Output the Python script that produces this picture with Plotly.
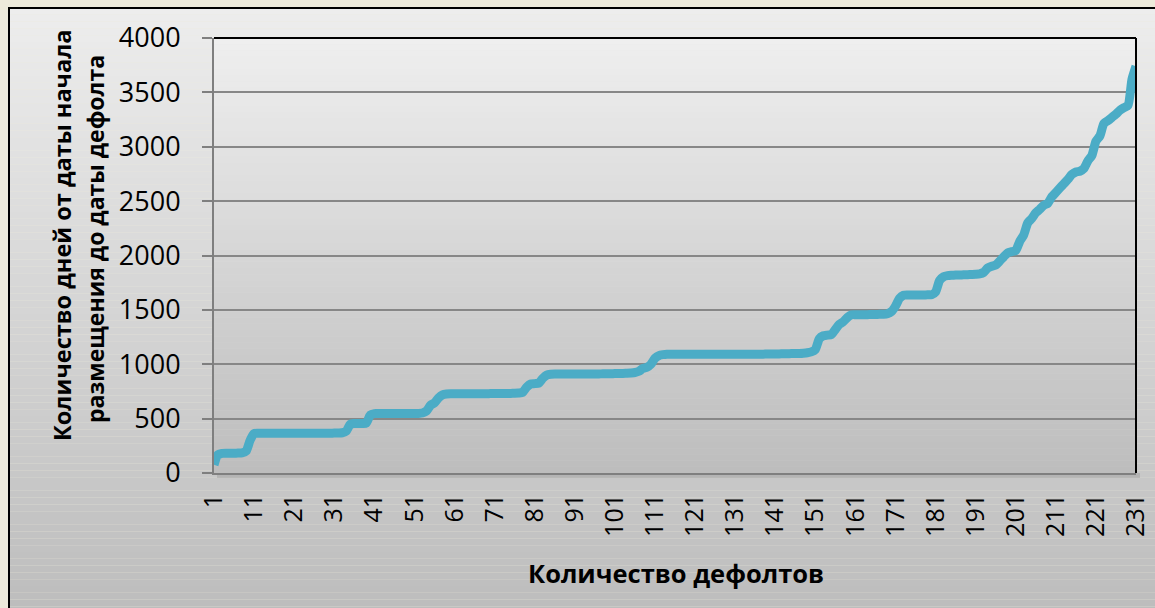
import plotly.graph_objects as go

# ---------------- data ----------------
defaults_n = list(range(1, 232))
days = [
    75, 170, 180, 182, 182, 182, 183, 185, 200, 300,            # 1-10
    362, 365, 365, 365, 365, 365, 365, 365, 365, 365,           # 11-20
    365, 365, 365, 365, 365, 365, 365, 366, 366, 366,           # 21-30
    367, 368, 370, 385, 448, 455, 455, 456, 460, 535,           # 31-40
    546, 546, 546, 546, 546, 546, 546, 546, 546, 547,           # 41-50
    547, 548, 552, 570, 622, 645, 690, 718, 726, 728,           # 51-60
    728, 728, 728, 728, 728, 729, 729, 729, 729, 730,           # 61-70
    730, 730, 731, 731, 732, 733, 735, 742, 790, 818,           # 71-80
    822, 826, 870, 900, 908, 910, 910, 910, 910, 910,           # 81-90
    910, 910, 910, 910, 910, 911, 911, 912, 912, 913,           # 91-100
    914, 915, 916, 918, 920, 924, 935, 962, 972, 1000,          # 101-110
    1055, 1080, 1088, 1092, 1092, 1092, 1092, 1092, 1092, 1092, # 111-120
    1092, 1092, 1092, 1092, 1092, 1092, 1092, 1092, 1092, 1092, # 121-130
    1092, 1092, 1092, 1092, 1092, 1093, 1093, 1093, 1094, 1094, # 131-140
    1095, 1095, 1096, 1097, 1098, 1099, 1100, 1102, 1106, 1114, # 141-150
    1135, 1235, 1262, 1268, 1272, 1320, 1368, 1392, 1430, 1455, # 151-160
    1456, 1456, 1456, 1456, 1457, 1458, 1459, 1460, 1465, 1485, # 161-170
    1535, 1605, 1634, 1637, 1637, 1637, 1637, 1637, 1638, 1640, # 171-180
    1665, 1770, 1805, 1815, 1818, 1820, 1821, 1822, 1824, 1826, # 181-190
    1828, 1832, 1845, 1885, 1902, 1912, 1948, 1988, 2025, 2036, # 191-200
    2045, 2130, 2190, 2300, 2340, 2392, 2425, 2462, 2480, 2540, # 201-210
    2580, 2620, 2660, 2700, 2745, 2768, 2775, 2800, 2870, 2920, # 211-220
    3050, 3100, 3215, 3240, 3270, 3300, 3335, 3360, 3380, 3620, # 221-230
    3740,                                                       # 231
]
x_tickvals = list(range(1, 232, 10))
x_ticktext = [str(v) for v in x_tickvals]
y_tickvals = [0, 500, 1000, 1500, 2000, 2500, 3000, 3500, 4000]

x_title = "Количество дефолтов"
y_title_1 = "Количество дней от даты начала"
y_title_2 = "размещения до даты дефолта"

# ---------------- geometry ----------------
W, H = 1155, 608
ML, MR, MT, MB = 214, 19, 38, 135
PW, PH = W - ML - MR, H - MT - MB


def px_x(p):
    return (p - ML) / PW


def px_y(p):
    return (H - MB - p) / PH


FONT = "Open Sans"

fig = go.Figure()
fig.add_trace(go.Scatter(
    x=defaults_n, y=days, mode="lines",
    line=dict(color="#4BACC6", width=9, shape="spline", smoothing=0.6),
    hoverinfo="x+y", showlegend=False,
))

shapes = []
# outer chart box gradient
box_x0, box_x1, box_y0, box_y1 = 9, 1165, 8, 620
N = 90
for i in range(N):
    t0 = box_y0 + (box_y1 - box_y0) * i / N
    t1 = box_y0 + (box_y1 - box_y0) * (i + 1) / N
    f = (i + 0.5) / N
    c = int(round(237 - (237 - 188) * f))
    shapes.append(dict(type="rect", xref="paper", yref="paper",
                       x0=px_x(box_x0), x1=px_x(box_x1), y0=px_y(t1), y1=px_y(t0),
                       fillcolor=f"rgb({c},{c},{c})", line=dict(width=0), layer="below"))
# plot-area shadow
shapes.append(dict(type="rect", xref="paper", yref="paper",
                   x0=px_x(ML + 3), x1=px_x(ML + PW + 4), y0=px_y(H - MB + 5), y1=px_y(H - MB),
                   fillcolor="rgba(120,120,120,0.25)", line=dict(width=0), layer="below"))
# plot-area gradient
M = 70
for i in range(M):
    f = (i + 0.5) / M
    c = int(round(239 - (239 - 189) * f))
    shapes.append(dict(type="rect", xref="paper", yref="paper",
                       x0=0, x1=1, y0=1 - (i + 1) / M, y1=1 - i / M,
                       fillcolor=f"rgb({c},{c},{c})", line=dict(width=0), layer="below"))
# box border
shapes.append(dict(type="rect", xref="paper", yref="paper",
                   x0=px_x(box_x0), x1=px_x(box_x1), y0=px_y(box_y1), y1=px_y(box_y0),
                   fillcolor="rgba(0,0,0,0)", line=dict(width=2, color="#000000"), layer="above"))
# top and right plot borders (black)
shapes.append(dict(type="line", xref="paper", yref="paper", x0=0, x1=1, y0=1, y1=1,
                   line=dict(width=2, color="#000000"), layer="above"))
shapes.append(dict(type="line", xref="paper", yref="paper", x0=1, x1=1, y0=0, y1=1,
                   line=dict(width=2, color="#000000"), layer="above"))

annotations = [
    dict(text=f"<b>{x_title}</b>", xref="paper", yref="paper",
         x=px_x(676), y=px_y(573), xanchor="center", yanchor="middle",
         showarrow=False, font=dict(family=FONT, size=25.5, color="#000000")),
    dict(text=f"<b>{y_title_1}</b>", xref="paper", yref="paper", textangle=-90,
         x=px_x(62), y=px_y(235), xanchor="center", yanchor="middle",
         showarrow=False, font=dict(family=FONT, size=23.5, color="#000000")),
    dict(text=f"<b>{y_title_2}</b>", xref="paper", yref="paper", textangle=-90,
         x=px_x(95), y=px_y(239), xanchor="center", yanchor="middle",
         showarrow=False, font=dict(family=FONT, size=23, color="#000000")),
]

fig.update_layout(
    width=W, height=H,
    margin=dict(l=ML, r=MR, t=MT, b=MB, pad=0),
    paper_bgcolor="#EDEADB",
    plot_bgcolor="rgba(0,0,0,0)",
    shapes=shapes,
    annotations=annotations,
    font=dict(family=FONT, color="#000000"),
    xaxis=dict(
        range=[1, 231], tickmode="array", tickvals=x_tickvals, ticktext=x_ticktext,
        tickangle=-90, ticks="", showgrid=False, zeroline=False,
        showline=True, linecolor="#7F7F7F", linewidth=2,
        tickfont=dict(family=FONT, size=25, color="#000000"),
        ticklabelstandoff=9, automargin=False,
    ),
    yaxis=dict(
        range=[0, 4000], tickmode="array", tickvals=y_tickvals,
        ticks="outside", ticklen=10, tickwidth=2, tickcolor="#7F7F7F",
        showgrid=True, gridcolor="#878787", gridwidth=2, zeroline=False,
        showline=True, linecolor="#7F7F7F", linewidth=2,
        tickfont=dict(family=FONT, size=27, color="#000000"),
        ticklabelstandoff=16, automargin=False,
    ),
)

fig.write_html(
    "out.html",
    config={"displayModeBar": False},
    post_script="document.body.style.margin='0';document.body.style.overflow='hidden';",
)
